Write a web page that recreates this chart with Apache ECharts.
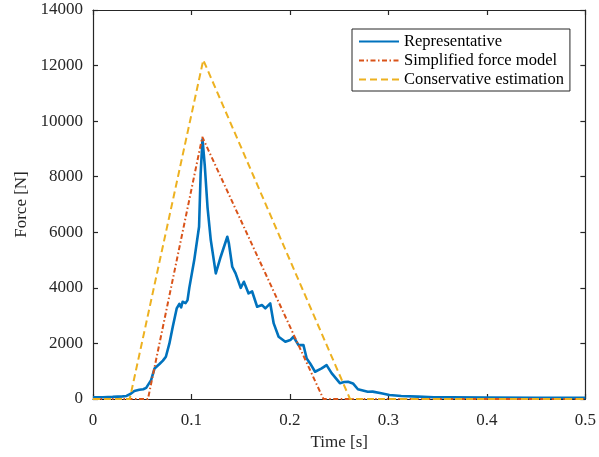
<!DOCTYPE html>
<html>
<head>
<meta charset="utf-8">
<script src="https://cdn.jsdelivr.net/npm/echarts@6/dist/echarts.min.js"></script>
<style>
html,body{margin:0;padding:0;background:#fff;}
#chart{width:599px;height:457px;}
</style>
</head>
<body>
<div id="chart"></div>
<script>
// Series names
var seriesNames = ['Representative', 'Simplified force model', 'Conservative estimation'];

// Representative measured force: [time s, force N]
var representative = [
  [0, 60], [0.01, 65], [0.02, 75], [0.03, 95], [0.034, 110], [0.038, 180], [0.042, 290],
  [0.047, 330], [0.051, 350], [0.054, 400], [0.056, 470], [0.059, 680], [0.0625, 1100],
  [0.0675, 1260], [0.071, 1380], [0.074, 1520], [0.0776, 2000], [0.081, 2600], [0.085, 3260],
  [0.0877, 3420], [0.0895, 3300], [0.091, 3500], [0.094, 3450], [0.096, 3560], [0.0978, 4000],
  [0.1028, 5000], [0.1077, 6200], [0.1093, 8100], [0.1112, 9350], [0.1135, 8400], [0.1163, 6900],
  [0.1196, 5720], [0.1247, 4520], [0.1297, 5120], [0.1364, 5840], [0.138, 5600], [0.1414, 4760],
  [0.1448, 4520], [0.15, 4000], [0.1532, 4220], [0.158, 3800], [0.1616, 3870], [0.1667, 3320],
  [0.1717, 3380], [0.175, 3260], [0.18, 3440], [0.1835, 2720], [0.1885, 2240], [0.1953, 2060],
  [0.2003, 2120], [0.2036, 2240], [0.2087, 1940], [0.2137, 1940], [0.217, 1460], [0.2205, 1280],
  [0.2255, 980], [0.2322, 1100], [0.2372, 1220], [0.2423, 930], [0.2507, 570], [0.255, 610],
  [0.259, 620], [0.264, 560], [0.269, 350], [0.279, 260], [0.284, 265], [0.2927, 205],
  [0.301, 145], [0.313, 108], [0.33, 85], [0.346, 65], [0.363, 60], [0.4, 50], [0.45, 45], [0.5, 40]
];

// Simplified force model (triangle)
var simplified = [[0, 0], [0.0558, 0], [0.111, 9430], [0.234, 0], [0.5, 0]];

// Conservative estimation (triangle)
var conservative = [[0, 0], [0.0373, 0], [0.112, 12200], [0.261, 0], [0.5, 0]];

// Axis settings
var xTicks = {min: 0, max: 0.5, interval: 0.1};
var yTicks = {min: 0, max: 14000, interval: 2000};

var axisColor = '#262626';
var font = 'Liberation Serif';

var chart = echarts.init(document.getElementById('chart'), null, {renderer: 'canvas'});

function baseAxis(extra) {
  var o = {
    type: 'value',
    axisLine: {show: true, onZero: false, lineStyle: {color: axisColor, width: 1.2}},
    axisTick: {show: true, inside: true, length: 5, lineStyle: {color: axisColor, width: 1.2}},
    splitLine: {show: false},
    axisLabel: {color: axisColor, fontFamily: font, fontSize: 17}
  };
  for (var k in extra) o[k] = extra[k];
  return o;
}

var option = {
  animation: false,
  backgroundColor: '#fff',
  grid: {left: 93, top: 10, right: 10, bottom: 58, containLabel: false},
  legend: {
    data: seriesNames,
    orient: 'vertical',
    left: 352,
    top: 29,
    padding: [4, 6, 3, 6],
    itemGap: 2,
    itemWidth: 40,
    itemHeight: 14,
    backgroundColor: '#fff',
    borderColor: axisColor,
    borderWidth: 1,
    borderRadius: 0,
    itemStyle: {color: 'rgba(0,0,0,0)', borderWidth: 0, opacity: 0},
    textStyle: {fontFamily: font, fontSize: 16.5, color: '#000'}
  },
  xAxis: [
    baseAxis({
      min: xTicks.min, max: xTicks.max, interval: xTicks.interval,
      name: 'Time [s]', nameLocation: 'middle', nameGap: 35,
      nameTextStyle: {fontFamily: font, fontSize: 17, color: axisColor},
      axisLabel: {color: axisColor, fontFamily: font, fontSize: 17, margin: 13,
        formatter: function (v) { return String(+v.toFixed(1)); }}
    }),
    baseAxis({
      position: 'top',
      min: xTicks.min, max: xTicks.max, interval: xTicks.interval,
      axisLabel: {show: false}
    })
  ],
  yAxis: [
    baseAxis({
      min: yTicks.min, max: yTicks.max, interval: yTicks.interval,
      name: 'Force [N]', nameLocation: 'middle', nameGap: 56,
      nameTextStyle: {fontFamily: font, fontSize: 17, color: axisColor},
      axisLabel: {color: axisColor, fontFamily: font, fontSize: 17, margin: 10,
        formatter: function (v) { return String(Math.round(v)); }}
    }),
    baseAxis({
      position: 'right',
      min: yTicks.min, max: yTicks.max, interval: yTicks.interval,
      axisLabel: {show: false}
    })
  ],
  series: [
    {
      name: seriesNames[0], type: 'line', data: representative,
      showSymbol: false, symbol: 'none', smooth: false,
      lineStyle: {color: '#0072BD', width: 2.6, join: 'round'},
      itemStyle: {color: '#0072BD'}
    },
    {
      name: seriesNames[1], type: 'line', data: simplified,
      showSymbol: false, symbol: 'none',
      lineStyle: {color: '#D95319', width: 2, type: [5, 2.5, 1.5, 2.5]},
      itemStyle: {color: '#D95319'}
    },
    {
      name: seriesNames[2], type: 'line', data: conservative,
      showSymbol: false, symbol: 'none',
      lineStyle: {color: '#EDB120', width: 2, type: [7, 4]},
      itemStyle: {color: '#EDB120'}
    }
  ]
};

chart.setOption(option);
</script>
</body>
</html>
